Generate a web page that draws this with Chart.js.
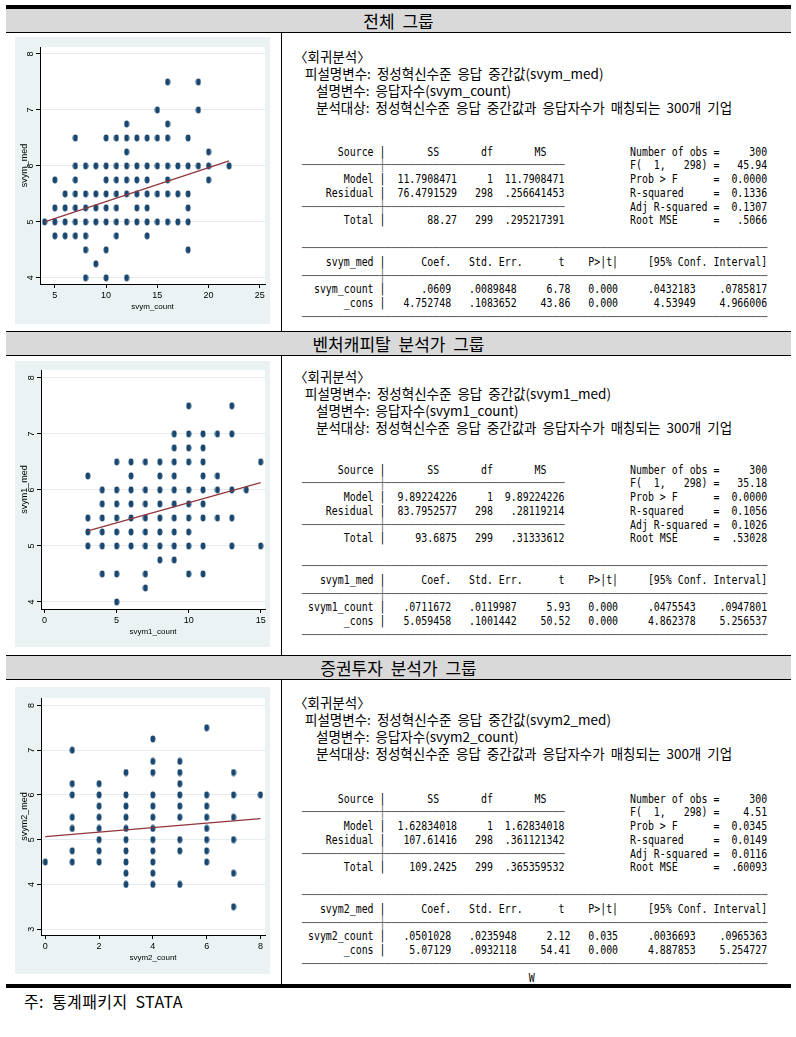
<!DOCTYPE html>
<html>
<head>
<meta charset="utf-8">
<script src="https://cdn.jsdelivr.net/npm/chart.js@4.4.1/dist/chart.umd.min.js"></script>
<style>
body { margin: 0; background: #fff; width: 796px; height: 1037px; position: relative; overflow: hidden; font-family: "Noto Sans CJK KR", sans-serif; color: #000; }
.hr { position: absolute; left: 6px; width: 785px; background: #000; }
.band { position: absolute; left: 6px; width: 785px; height: 23px; background: #d9d9d9; text-align: center; font-size: 17px; line-height: 23px; word-spacing: 4px; }
.vr { position: absolute; left: 281px; width: 1px; background: #000; }
canvas { position: absolute; left: 15px; background: #eaf2f3; }
.kr { position: absolute; font-size: 13.5px; line-height: 17px; white-space: pre; word-spacing: 3px; }
pre.st { position: absolute; left: 302px; margin: 0; font-family: "DejaVu Sans Mono", monospace; font-size: 13px; line-height: 13.8px; transform: scaleX(0.762); transform-origin: 0 0; color: #000; }
.ln { color: #666; }
.note { position: absolute; left: 24px; top: 990px; font-size: 16px; line-height: 22px; word-spacing: 4px; letter-spacing: 0.4px; }
</style>
</head>
<body>

<div class="hr" style="top:5px;height:4px"></div>
<div class="band" style="top:9px">전체 그룹</div>
<div class="hr" style="top:32px;height:1px"></div>
<div class="vr" style="top:33px;height:298px"></div>

<div class="hr" style="top:331px;height:1px"></div>
<div class="band" style="top:332px">벤처캐피탈 분석가 그룹</div>
<div class="hr" style="top:355px;height:1px"></div>
<div class="vr" style="top:356px;height:299px"></div>

<div class="hr" style="top:655px;height:1px"></div>
<div class="band" style="top:656px">증권투자 분석가 그룹</div>
<div class="hr" style="top:679px;height:1px"></div>
<div class="vr" style="top:680px;height:304px"></div>

<div class="hr" style="top:984px;height:4px"></div>
<div class="note">주: 통계패키지 STATA</div>

<canvas id="cAll" width="255" height="287" style="top:37px"></canvas>
<canvas id="cVc" width="255" height="286" style="top:361px"></canvas>
<canvas id="cSec" width="255" height="287" style="top:687px"></canvas>

<!-- 전체 그룹 -->
<div class="kr" style="left:294px;top:48px">〈회귀분석〉</div>
<div class="kr" style="left:305px;top:65px">피설명변수: 정성혁신수준 응답 중간값(svym_med)</div>
<div class="kr" style="left:316px;top:82px">설명변수: 응답자수(svym_count)</div>
<div class="kr" style="left:316px;top:99px">분석대상: 정성혁신수준 응답 중간값과 응답자수가 매칭되는 300개 기업</div>
<pre class="st" style="top:144.5px">      Source |       SS       df       MS              Number of obs =     300
<span class="ln">─────────────┼──────────────────────────────</span>           F(  1,   298) =   45.94
       Model |  11.7908471     1  11.7908471           Prob > F      =  0.0000
    Residual |  76.4791529   298  .256641453           R-squared     =  0.1336
<span class="ln">─────────────┼──────────────────────────────</span>           Adj R-squared =  0.1307
       Total |       88.27   299  .295217391           Root MSE      =   .5066

<span class="ln">──────────────────────────────────────────────────────────────────────────────</span>
    svym_med |      Coef.   Std. Err.      t    P>|t|     [95% Conf. Interval]
<span class="ln">─────────────┼────────────────────────────────────────────────────────────────</span>
  svym_count |      .0609   .0089848     6.78   0.000     .0432183    .0785817
       _cons |   4.752748   .1083652    43.86   0.000      4.53949    4.966006
<span class="ln">──────────────────────────────────────────────────────────────────────────────</span></pre>

<!-- 벤처캐피탈 분석가 그룹 -->
<div class="kr" style="left:294px;top:368px">〈회귀분석〉</div>
<div class="kr" style="left:305px;top:385px">피설명변수: 정성혁신수준 응답 중간값(svym1_med)</div>
<div class="kr" style="left:316px;top:402px">설명변수: 응답자수(svym1_count)</div>
<div class="kr" style="left:316px;top:419px">분석대상: 정성혁신수준 응답 중간값과 응답자수가 매칭되는 300개 기업</div>
<pre class="st" style="top:462.5px">      Source |       SS       df       MS              Number of obs =     300
<span class="ln">─────────────┼──────────────────────────────</span>           F(  1,   298) =   35.18
       Model |  9.89224226     1  9.89224226           Prob > F      =  0.0000
    Residual |  83.7952577   298   .28119214           R-squared     =  0.1056
<span class="ln">─────────────┼──────────────────────────────</span>           Adj R-squared =  0.1026
       Total |     93.6875   299   .31333612           Root MSE      =  .53028

<span class="ln">──────────────────────────────────────────────────────────────────────────────</span>
   svym1_med |      Coef.   Std. Err.      t    P>|t|     [95% Conf. Interval]
<span class="ln">─────────────┼────────────────────────────────────────────────────────────────</span>
 svym1_count |   .0711672   .0119987     5.93   0.000     .0475543    .0947801
       _cons |   5.059458   .1001442    50.52   0.000     4.862378    5.256537
<span class="ln">──────────────────────────────────────────────────────────────────────────────</span></pre>

<!-- 증권투자 분석가 그룹 -->
<div class="kr" style="left:294px;top:694px">〈회귀분석〉</div>
<div class="kr" style="left:305px;top:711px">피설명변수: 정성혁신수준 응답 중간값(svym2_med)</div>
<div class="kr" style="left:316px;top:728px">설명변수: 응답자수(svym2_count)</div>
<div class="kr" style="left:316px;top:745px">분석대상: 정성혁신수준 응답 중간값과 응답자수가 매칭되는 300개 기업</div>
<pre class="st" style="top:791.5px">      Source |       SS       df       MS              Number of obs =     300
<span class="ln">─────────────┼──────────────────────────────</span>           F(  1,   298) =    4.51
       Model |  1.62834018     1  1.62834018           Prob > F      =  0.0345
    Residual |   107.61416   298  .361121342           R-squared     =  0.0149
<span class="ln">─────────────┼──────────────────────────────</span>           Adj R-squared =  0.0116
       Total |    109.2425   299  .365359532           Root MSE      =  .60093

<span class="ln">──────────────────────────────────────────────────────────────────────────────</span>
   svym2_med |      Coef.   Std. Err.      t    P>|t|     [95% Conf. Interval]
<span class="ln">─────────────┼────────────────────────────────────────────────────────────────</span>
 svym2_count |   .0501028   .0235948     2.12   0.035     .0036693    .0965363
       _cons |    5.07129   .0932118    54.41   0.000     4.887853    5.254727
<span class="ln">──────────────────────────────────────────────────────────────────────────────</span>
                                      W</pre>

<script>
const dotColor = '#1a476f';
const fitColor = '#90353b';
const axisFont = "'Liberation Sans Narrow', 'Liberation Sans', Arial, sans-serif";

// 전체 그룹: y level -> x values seen at that level
const allLevels = [7.5, 7, 6.75, 6.5, 6.25, 6, 5.75, 5.5, 5.25, 5, 4.75, 4.5, 4.25, 4];
const allCounts = [
	[16, 19],
	[15, 19],
	[12, 16],
	[7, 10, 11, 12, 13, 14, 15, 16, 18],
	[12, 20],
	[7, 8, 9, 10, 11, 12, 13, 14, 15, 16, 17, 18, 19, 20, 22],
	[5, 7, 10, 11, 12, 13, 14, 16, 20],
	[6, 7, 8, 9, 10, 11, 12, 13, 14, 15, 16, 17, 18],
	[5, 6, 7, 8, 9, 10, 11, 13, 14, 18],
	[4, 5, 6, 7, 8, 9, 10, 11, 12, 13, 14, 15, 16, 17, 18],
	[5, 6, 7, 8, 11, 14],
	[8, 10, 18],
	[9],
	[8, 10, 12],
];
const allFitX = [4, 22];
const allFitY = [5.0, 6.09];
const allTicksX = [5, 10, 15, 20, 25];
const allTicksY = [4, 5, 6, 7, 8];

// 벤처캐피탈 분석가 그룹
const vcLevels = [7.5, 7, 6.75, 6.5, 6.25, 6, 5.75, 5.5, 5.25, 5, 4.75, 4.5, 4.25, 4];
const vcCounts = [
	[10, 13],
	[9, 10, 11, 12, 13],
	[9, 10, 11],
	[5, 6, 7, 8, 9, 10, 11, 15],
	[3, 6, 8, 9, 11, 12],
	[4, 5, 6, 7, 8, 9, 10, 11, 12, 13, 14],
	[4, 5, 6, 7, 8, 9, 10, 11],
	[3, 4, 5, 6, 7, 8, 9, 10, 11, 12, 13],
	[3, 4, 5, 6, 7, 8, 9, 10],
	[3, 4, 5, 6, 7, 8, 9, 10, 11, 13, 15],
	[8, 9],
	[4, 5, 7, 10, 11],
	[7],
	[5],
];
const vcFitX = [3, 15];
const vcFitY = [5.27, 6.13];
const vcTicksX = [0, 5, 10, 15];
const vcTicksY = [4, 5, 6, 7, 8];

// 증권투자 분석가 그룹: x value -> y levels seen
const secCounts = [0, 1, 2, 3, 4, 5, 6, 7, 8];
const secMeds = [
	[4.5],
	[7, 6.25, 6, 5.5, 5.25, 4.75, 4.5],
	[6.25, 6, 5.75, 5.5, 5.25, 5, 4.75, 4.5],
	[6.5, 6, 5.75, 5.5, 5.25, 5, 4.75, 4.5, 4.25, 4],
	[7.25, 6.75, 6.5, 6, 5.75, 5.5, 5.25, 5, 4.75, 4.5, 4.25, 4],
	[6.75, 6.5, 6.25, 6, 5.75, 5.5, 5, 4.75, 4],
	[7.5, 6, 5.75, 5.5, 5.25, 5, 4.75, 4.5],
	[6.5, 6, 5.5, 5, 4.25, 3.5],
	[6],
];
const secFitX = [0, 8];
const secFitY = [5.07, 5.47];
const secTicksX = [0, 2, 4, 6, 8];
const secTicksY = [3, 4, 5, 6, 7, 8];

function dotImage() {
	const c = document.createElement('canvas');
	c.width = 6;
	c.height = 8;
	const g = c.getContext('2d');
	g.fillStyle = dotColor;
	g.beginPath();
	g.ellipse(3, 4, 2.5, 3.4, 0, 0, Math.PI * 2);
	g.fill();
	return c;
}
const dot = dotImage();

const whitePlot = {
	id: 'whitePlot',
	beforeDraw(chart) {
		const { ctx, chartArea: a } = chart;
		ctx.save();
		ctx.fillStyle = '#fff';
		ctx.fillRect(a.left, a.top, a.right - a.left, a.bottom - a.top);
		ctx.restore();
	},
};

function byLevel(levels, lists) {
	const pts = [];
	levels.forEach((y, i) => lists[i].forEach((x) => pts.push({ x, y })));
	return pts;
}

function byCount(xs, lists) {
	const pts = [];
	xs.forEach((x, i) => lists[i].forEach((y) => pts.push({ x, y })));
	return pts;
}

function drawPanel(id, pts, fitX, fitY, c) {
	new Chart(document.getElementById(id), {
		type: 'scatter',
		data: {
			datasets: [
				{ data: pts, pointStyle: dot, pointRadius: 3, pointHoverRadius: 3, order: 2 },
				{
					type: 'line',
					data: fitX.map((x, i) => ({ x, y: fitY[i] })),
					borderColor: fitColor,
					borderWidth: 1.2,
					pointRadius: 0,
					fill: false,
					order: 1,
				},
			],
		},
		options: {
			responsive: false,
			animation: false,
			devicePixelRatio: 1,
			events: [],
			layout: { padding: { top: c.top, right: 5, left: 0, bottom: 0 } },
			plugins: { legend: { display: false }, tooltip: { enabled: false } },
			scales: {
				x: {
					type: 'linear',
					min: c.xMin,
					max: c.xMax,
					afterBuildTicks: (s) => { s.ticks = c.xTicks.map((v) => ({ value: v })); },
					afterFit: (s) => { s.height = c.bottom; },
					grid: { drawOnChartArea: false, tickColor: '#000', tickLength: 4 },
					border: { color: '#000', width: 1 },
					ticks: { color: '#000', font: { family: axisFont, size: 9 }, padding: 2, maxRotation: 0, autoSkip: false },
					title: { display: true, text: c.xTitle, color: '#000', font: { family: axisFont, size: 8 }, padding: { top: 0, bottom: c.bottom - 28 } },
				},
				y: {
					type: 'linear',
					min: c.yMin,
					max: c.yMax,
					afterBuildTicks: (s) => { s.ticks = c.yTicks.map((v) => ({ value: v })); },
					afterFit: (s) => { s.width = c.left; },
					grid: { color: '#e4ecef', tickColor: '#000', tickLength: 4 },
					border: { color: '#000', width: 1 },
					ticks: { color: '#000', font: { family: axisFont, size: 9 }, padding: 3, minRotation: 90, maxRotation: 90, crossAlign: 'center', autoSkip: false },
					title: { display: true, text: c.yTitle, color: '#000', font: { family: axisFont, size: 9 }, padding: { top: 4, bottom: 0 } },
				},
			},
		},
		plugins: [whitePlot],
	});
}

drawPanel('cAll', byLevel(allLevels, allCounts), allFitX, allFitY, {
	xMin: 3.55, xMax: 25.5, yMin: 3.89, yMax: 8.125,
	xTicks: allTicksX, yTicks: allTicksY,
	xTitle: 'svym_count', yTitle: 'svym_med',
	top: 10, left: 25, bottom: 40,
});

drawPanel('cVc', byLevel(vcLevels, vcCounts), vcFitX, vcFitY, {
	xMin: -0.25, xMax: 15.3, yMin: 3.875, yMax: 8.14,
	xTicks: vcTicksX, yTicks: vcTicksY,
	xTitle: 'svym1_count', yTitle: 'svym1_med',
	top: 9, left: 26, bottom: 38,
});

drawPanel('cSec', byCount(secCounts, secMeds), secFitX, secFitY, {
	xMin: -0.16, xMax: 8.17, yMin: 2.87, yMax: 8.165,
	xTicks: secTicksX, yTicks: secTicksY,
	xTitle: 'svym2_count', yTitle: 'svym2_med',
	top: 11, left: 26, bottom: 39,
});
</script>
</body>
</html>
